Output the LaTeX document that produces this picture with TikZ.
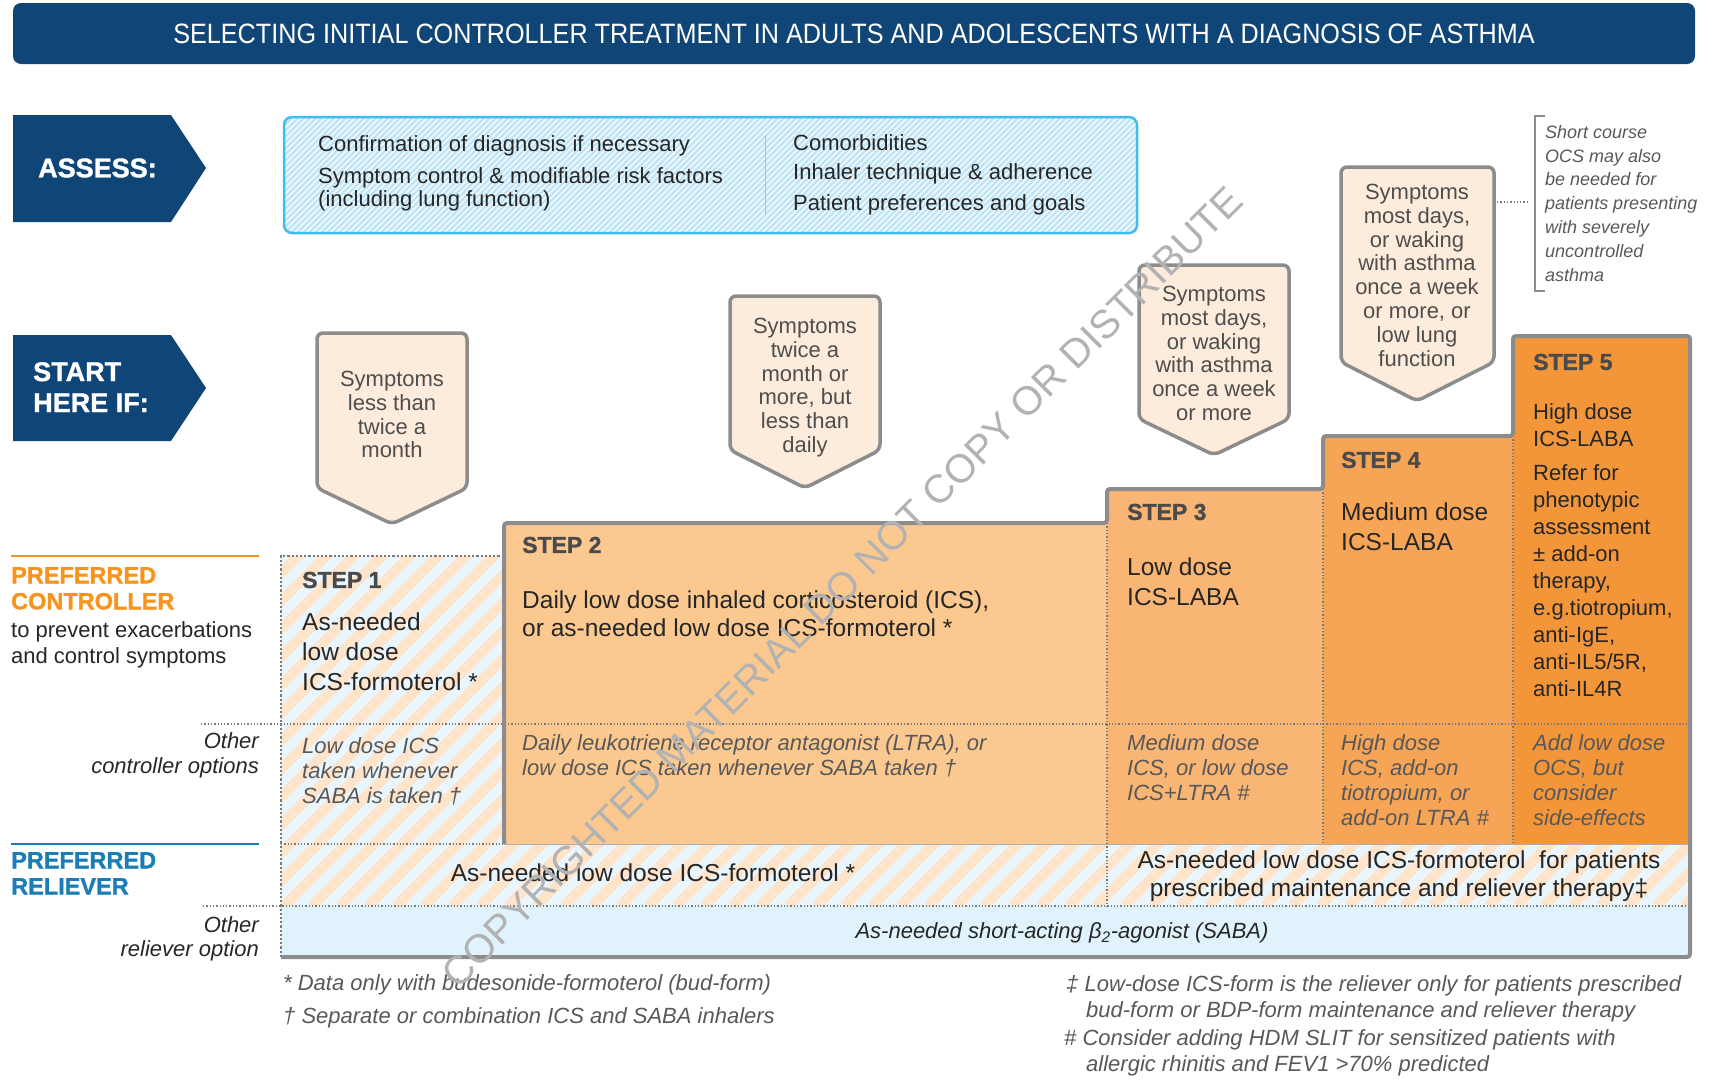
\documentclass[tikz,border=0pt]{standalone}
\usepackage{fontspec}
\setmainfont{Liberation Sans}
\newfontfamily\titlefont[FakeStretch=0.9]{Liberation Sans}
\newfontfamily\heavyfont[FakeBold=1.3]{Liberation Sans Bold}
\usetikzlibrary{positioning}

\definecolor{navy}{HTML}{0F4677}
\definecolor{skyfill}{HTML}{BFE5F8}
\definecolor{skyedge}{HTML}{3EBDEE}
\definecolor{divgrey}{HTML}{9CC6DA}
\definecolor{peach}{HTML}{FDEBDC}
\definecolor{edgegrey}{HTML}{8C8C8C}
\definecolor{stepA}{HTML}{FBC990}
\definecolor{stepB}{HTML}{F9B574}
\definecolor{stepC}{HTML}{F6A456}
\definecolor{stepD}{HTML}{F39539}
\definecolor{stripeblue}{HTML}{EAF6FD}
\definecolor{stripepeach}{HTML}{FDE4CB}
\definecolor{sabablue}{HTML}{E0F2FC}
\definecolor{ctrlorange}{HTML}{F7941D}
\definecolor{relblue}{HTML}{1A7DB5}
\definecolor{bodytext}{HTML}{262626}
\definecolor{headgrey}{HTML}{4A4A4A}
\definecolor{optgrey}{HTML}{585858}
\definecolor{symgrey}{HTML}{4E4E4E}
\definecolor{dotgrey}{HTML}{7A7A7A}

\tikzset{
  symbox/.style={fill=peach, draw=edgegrey, line width=3.5pt, rounded corners=6pt},
  symtext/.style={anchor=north, align=center, inner sep=0pt, text=symgrey, font=\fontsize{22}{23.8}\selectfont},
  tagtext/.style={inner sep=0pt, text=white, font=\heavyfont\fontsize{27}{31}\selectfont},
  asstext/.style={anchor=west, inner sep=0pt, text=bodytext, font=\fontsize{22}{24}\selectfont},
  stephead/.style={anchor=west, inner sep=0pt, text=headgrey, font=\heavyfont\fontsize{23}{26}\selectfont},
  steptext/.style={anchor=north west, align=left, inner sep=0pt, text=bodytext, font=\fontsize{24.5}{30}\selectfont},
  opttext/.style={anchor=north west, align=left, inner sep=0pt, text=optgrey, font=\itshape\fontsize{22}{25}\selectfont},
  foot/.style={anchor=west, inner sep=0pt, text=optgrey, font=\itshape\fontsize{22}{24}\selectfont},
  dotline/.style={draw=dotgrey, line width=1.3pt, dotted},
}

\begin{document}
\begin{tikzpicture}[x=1pt,y=-1pt]
\useasboundingbox (0,0) rectangle (1720,1079);

% Title bar
\fill[navy, rounded corners=8pt] (13,3) rectangle (1695,64);
\node[inner sep=0pt, text=white, font=\titlefont\fontsize{28}{30}\selectfont] (title) at (854,34)
  {SELECTING INITIAL CONTROLLER TREATMENT IN ADULTS AND ADOLESCENTS WITH A DIAGNOSIS OF ASTHMA};

% Side tags
\fill[navy] (13,115) -- (171,115) -- (206,168) -- (171,222) -- (13,222) -- cycle;
\node[tagtext, anchor=west] (assess) at (38,168) {ASSESS:};
\fill[navy] (13,335) -- (171,335) -- (206,388) -- (171,441) -- (13,441) -- cycle;
\node[tagtext, anchor=north west, align=left] (start) at (33,362) {START\\HERE IF:};

% Assess box
\fill[skyfill, rounded corners=8pt] (284,117) rectangle (1137,233);
\begin{scope}
  \clip[rounded corners=8pt] (284,117) rectangle (1137,233);
  \foreach \x in {168,174,...,1140}
    \draw[white, line width=1.2pt] (\x,233) -- ++(116,-116);
\end{scope}
\draw[skyedge, line width=2.5pt, rounded corners=8pt] (284,117) rectangle (1137,233);
\draw[divgrey, line width=1pt] (765,135) -- (765,214);

\node[asstext] (asA) at (318,146) {Confirmation of diagnosis if necessary};
\node[asstext] (asB) at (318,178) {Symptom control \& modifiable risk factors};
\node[asstext] (asC) at (318,201) {(including lung function)};
\node[asstext] (asD) at (793,143) {Comorbidities};
\node[asstext] (asE) at (793,174) {Inhaler technique \& adherence};
\node[asstext] (asF) at (793,205) {Patient preferences and goals};

% Symptom boxes
\filldraw[symbox] (317,333) -- (467,333) -- (467,488) -- (392,524) -- (317,488) -- cycle;
\node[symtext] (symA) at (392,371) {Symptoms\\less than\\twice a\\month};
\filldraw[symbox] (730,296) -- (880,296) -- (880,450) -- (805,488) -- (730,450) -- cycle;
\node[symtext] (symB) at (805,318) {Symptoms\\twice a\\month or\\more, but\\less than\\daily};
\filldraw[symbox] (1139,265) -- (1289,265) -- (1289,419) -- (1214,455) -- (1139,419) -- cycle;
\node[symtext] (symC) at (1214,286) {Symptoms\\most days,\\or waking\\with asthma\\once a week\\or more};
\filldraw[symbox] (1341,167) -- (1494,167) -- (1494,362) -- (1417,401) -- (1341,362) -- cycle;
\node[symtext] (symD) at (1417,184) {Symptoms\\most days,\\or waking\\with asthma\\once a week\\or more, or\\low lung\\function};

% OCS note
\coordinate (symDe) at (1497,202);
\coordinate (brk) at (1530,202);
\draw[dotline] (symDe) -- (brk);
\draw[edgegrey, line width=1.5pt] (1545,116) -- (1535,116) -- (1535,291) -- (1545,291);
\node[anchor=north west, align=left, inner sep=0pt, text=optgrey, font=\itshape\fontsize{18}{23.8}\selectfont] (ocs) at (1545,125)
  {Short course\\OCS may also\\be needed for\\patients presenting\\with severely\\uncontrolled\\asthma};

% Striped step 1 and reliever row
\begin{scope}
  \clip (281,556) -- (504,556) -- (504,844) -- (1690,844) -- (1690,906) -- (281,906) -- cycle;
  \fill[stripeblue] (281,556) rectangle (1690,906);
  \foreach \x in {-80,-52,...,1700}
    \draw[stripepeach, line width=10pt] (\x,906) -- ++(360,-360);
\end{scope}

% Steps 2 to 5
\fill[stepA] (504,523) rectangle (1107,844);
\fill[stepB] (1107,489) rectangle (1323,844);
\fill[stepC] (1323,436) rectangle (1513,844);
\fill[stepD] (1513,336) rectangle (1690,844);
\fill[sabablue] (281,906) rectangle (1690,957);

% Row and column dividers
\draw[dotline] (201,724) -- (1690,724);
\draw[dotline] (281,844) -- (504,844);
\draw[edgegrey!70, line width=1pt] (504,844) -- (1690,844);
\draw[dotline] (203,906) -- (1690,906);
\draw[dotline] (1107,523) -- (1107,906);
\draw[dotline] (1323,489) -- (1323,844);
\draw[dotline] (1513,436) -- (1513,844);
\draw[dotgrey, line width=2.2pt, dotted] (281,957) -- (281,556) -- (504,556);
\draw[edgegrey, line width=4pt, rounded corners=3pt]
  (504,844) -- (504,523) -- (1107,523) -- (1107,489) -- (1323,489) -- (1323,436)
  -- (1513,436) -- (1513,336) -- (1690,336) -- (1690,957) -- (281,957);

% Left labels
\draw[ctrlorange, line width=2pt] (11,556) -- (259,556);
\node[anchor=north west, align=left, inner sep=0pt, text=ctrlorange, font=\heavyfont\fontsize{23.5}{26}\selectfont] (prefctrl) at (11,567) {PREFERRED\\CONTROLLER};
\node[anchor=north west, align=left, inner sep=0pt, text=bodytext, font=\fontsize{22}{26}\selectfont] (prefctrlsub) at (11,621) {to prevent exacerbations\\and control symptoms};
\node[anchor=north east, align=right, inner sep=0pt, text=bodytext, font=\itshape\fontsize{22}{25}\selectfont] (othctrl) at (259,732) {Other\\controller options};
\draw[relblue, line width=2.5pt] (11,844) -- (259,844);
\node[anchor=north west, align=left, inner sep=0pt, text=relblue, font=\heavyfont\fontsize{23.5}{26}\selectfont] (prefrel) at (11,852) {PREFERRED\\RELIEVER};
\node[anchor=north east, align=right, inner sep=0pt, text=bodytext, font=\itshape\fontsize{22}{24}\selectfont] (othrel) at (259,916) {Other\\reliever option};

% Step contents
\node[stephead] (hdA) at (302,580) {STEP 1};
\node[steptext] (stA) at (302,613) {As-needed\\low dose\\ICS-formoterol *};
\node[opttext] (opA) at (302,737) {Low dose ICS\\taken whenever\\SABA is taken †};
\node[stephead] (hdB) at (522,545) {STEP 2};
\node[steptext, font=\fontsize{24.5}{28}\selectfont] (stB) at (522,591) {Daily low dose inhaled corticosteroid (ICS),\\or as-needed low dose ICS-formoterol *};
\node[opttext] (opB) at (522,734) {Daily leukotriene receptor antagonist (LTRA), or\\low dose ICS taken whenever SABA taken †};
\node[stephead] (hdC) at (1127,512) {STEP 3};
\node[steptext] (stC) at (1127,558) {Low dose\\ICS-LABA};
\node[opttext] (opC) at (1127,734) {Medium dose\\ICS, or low dose\\ICS+LTRA \#};
\node[stephead] (hdD) at (1341,460) {STEP 4};
\node[steptext] (stD) at (1341,503) {Medium dose\\ICS-LABA};
\node[opttext] (opD) at (1341,734) {High dose\\ICS, add-on\\tiotropium, or\\add-on LTRA \#};
\node[stephead] (hdE) at (1533,362) {STEP 5};
\node[steptext, font=\fontsize{22}{27}\selectfont] (stE) at (1533,403) {High dose\\ICS-LABA};
\node[steptext, font=\fontsize{22}{27}\selectfont] (stF) at (1533,464) {Refer for\\phenotypic\\assessment\\± add-on\\therapy,\\e.g.tiotropium,\\anti-IgE,\\anti-IL5/5R,\\anti-IL4R};
\node[opttext] (opE) at (1533,734) {Add low dose\\OCS, but\\consider\\side-effects};

% Reliever rows
\node[inner sep=0pt, text=bodytext, font=\fontsize{24.5}{28}\selectfont] (relA) at (653,873) {As-needed low dose ICS-formoterol *};
\node[anchor=north, align=center, inner sep=0pt, text=bodytext, font=\fontsize{24.5}{28}\selectfont] (relB) at (1399,851)
  {As-needed low dose ICS-formoterol~ for patients\\prescribed maintenance and reliever therapy‡};
\node[inner sep=0pt, text=bodytext, font=\itshape\fontsize{22}{24}\selectfont] (saba) at (1062,933) {As-needed short-acting β\textsubscript{2}-agonist (SABA)};

% Footnotes
\node[foot] (fnA) at (283,985) {* Data only with budesonide-formoterol (bud-form)};
\node[foot] (fnB) at (283,1018) {† Separate or combination ICS and SABA inhalers};
\node[foot] (fnC) at (1066,986) {‡ Low-dose ICS-form is the reliever only for patients prescribed};
\node[foot] (fnD) at (1086,1012) {bud-form or BDP-form maintenance and reliever therapy};
\node[foot] (fnE) at (1064,1040) {\# Consider adding HDM SLIT for sensitized patients with};
\node[foot] (fnF) at (1086,1066) {allergic rhinitis and FEV1 >70\% predicted};

% Watermark
\node[rotate=45, inner sep=0pt, text=black!30, font=\fontsize{40}{44}\selectfont] (wmark) at (842,587)
  {COPYRIGHTED MATERIAL DO NOT COPY OR DISTRIBUTE};

\end{tikzpicture}
\end{document}
